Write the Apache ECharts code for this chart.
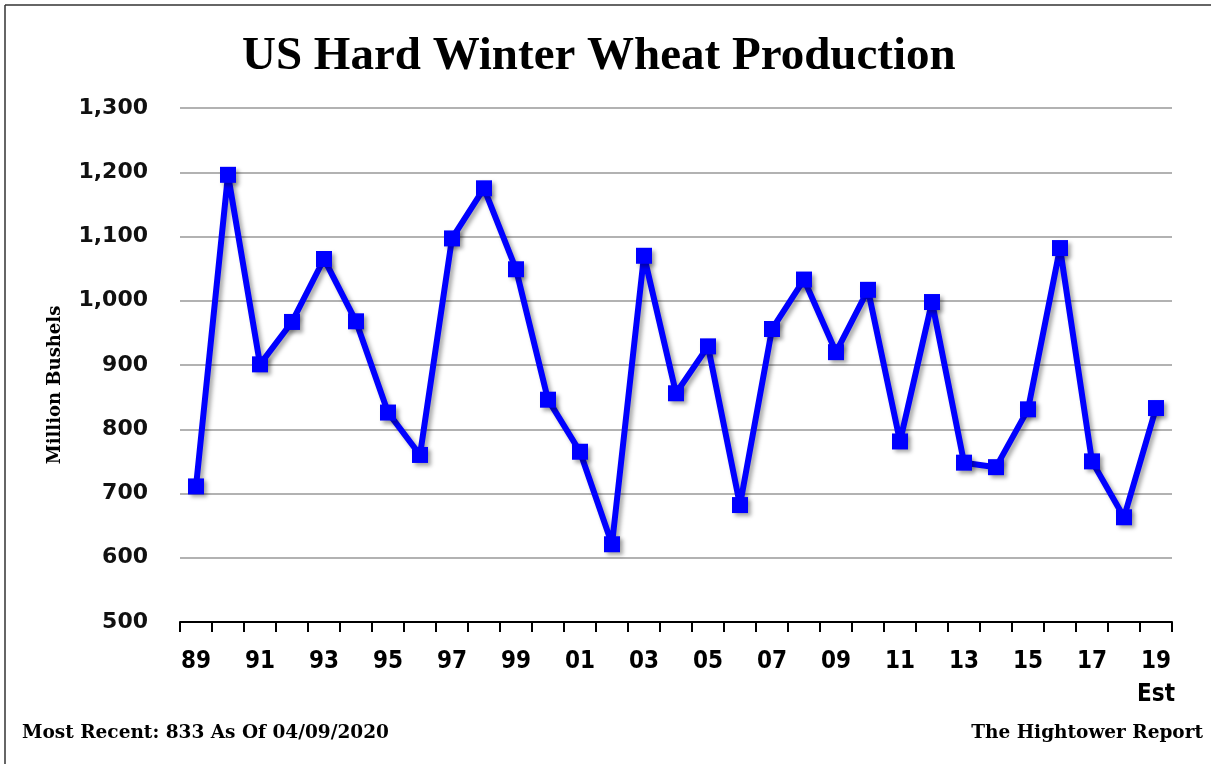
<!DOCTYPE html>
<html>
<head>
<meta charset="utf-8">
<script src="https://cdn.jsdelivr.net/npm/echarts@6/dist/echarts.min.js"></script>
<style>
html,body{margin:0;padding:0;background:#fff;}
#chart{width:1211px;height:764px;}
</style>
</head>
<body>
<div id="chart"></div>
<script>
const years = ['89','90','91','92','93','94','95','96','97','98','99','00','01','02','03','04','05','06','07','08','09','10','11','12','13','14','15','16','17','18','19'];
const production = [711,1196,901,967,1065,968,826,760,1097,1175,1049,846,765,621,1070,856,929,682,956,1033,920,1017,781,998,748,741,831,1082,750,663,833];
const yTicks = [500,600,700,800,900,1000,1100,1200,1300];
const labelledYears = ['89','91','93','95','97','99','01','03','05','07','09','11','13','15','17','19'];

const chart = echarts.init(document.getElementById('chart'));
chart.setOption({
  backgroundColor: '#fff',
  animation: false,
  title: {
    text: 'US Hard Winter Wheat Production',
    left: 242,
    top: 33,
    padding: 0,
    textStyle: {fontFamily: 'Liberation Serif', fontWeight: 'bold', fontSize: 47, color: '#000'}
  },
  grid: {left: 180, right: 39, top: 108, bottom: 142},
  xAxis: {
    type: 'category',
    data: years,
    boundaryGap: true,
    axisLine: {lineStyle: {color: '#000', width: 2}},
    axisTick: {show: true, interval: 0, length: 10, lineStyle: {color: '#000', width: 2}},
    axisLabel: {
      interval: 0,
      margin: 23,
      fontFamily: '"DejaVu Sans Condensed", "Liberation Sans", sans-serif',
      fontWeight: 'bold',
      fontSize: 24,
      color: '#000',
      lineHeight: 33,
      formatter: function (v) {
        if (labelledYears.indexOf(v) < 0) return '';
        return v === '19' ? '19\nEst' : v;
      }
    },
    splitLine: {show: false}
  },
  yAxis: {
    type: 'value',
    min: yTicks[0],
    max: yTicks[yTicks.length - 1],
    interval: 100,
    axisLine: {show: false},
    axisTick: {show: false},
    axisLabel: {
      margin: 32,
      fontFamily: 'DejaVu Sans',
      fontWeight: 'bold',
      fontSize: 22,
      color: '#111',
      formatter: function (v) { return v.toLocaleString('en-US'); }
    },
    splitLine: {lineStyle: {color: '#999', width: 1.5}}
  },
  series: [{
    type: 'line',
    data: production,
    symbol: 'rect',
    symbolSize: 16,
    lineStyle: {color: '#0000ff', width: 6, shadowColor: 'rgba(0,0,0,0.35)', shadowBlur: 4, shadowOffsetX: 3, shadowOffsetY: 3},
    itemStyle: {color: '#0000ff', shadowColor: 'rgba(0,0,0,0.35)', shadowBlur: 4, shadowOffsetX: 3, shadowOffsetY: 3},
    z: 3
  }],
  graphic: [
    {type: 'line', shape: {x1: 5, y1: 5, x2: 1211, y2: 5}, style: {stroke: '#333', lineWidth: 1.5}},
    {type: 'line', shape: {x1: 5, y1: 5, x2: 5, y2: 764}, style: {stroke: '#333', lineWidth: 1.5}},
    {type: 'text', x: 55, y: 385, rotation: Math.PI / 2,
     style: {text: 'Million Bushels', fontFamily: 'DejaVu Serif', fontWeight: 'bold', fontSize: 18, fill: '#000', align: 'center', verticalAlign: 'middle'}},
    {type: 'text', left: 22, top: 724,
     style: {text: 'Most Recent: 833 As Of 04/09/2020', fontFamily: 'DejaVu Serif', fontWeight: 'bold', fontSize: 18.5, fill: '#000'}},
    {type: 'text', right: 8, top: 724,
     style: {text: 'The Hightower Report', fontFamily: 'DejaVu Serif', fontWeight: 'bold', fontSize: 18.5, fill: '#000'}}
  ]
});
</script>
</body>
</html>
